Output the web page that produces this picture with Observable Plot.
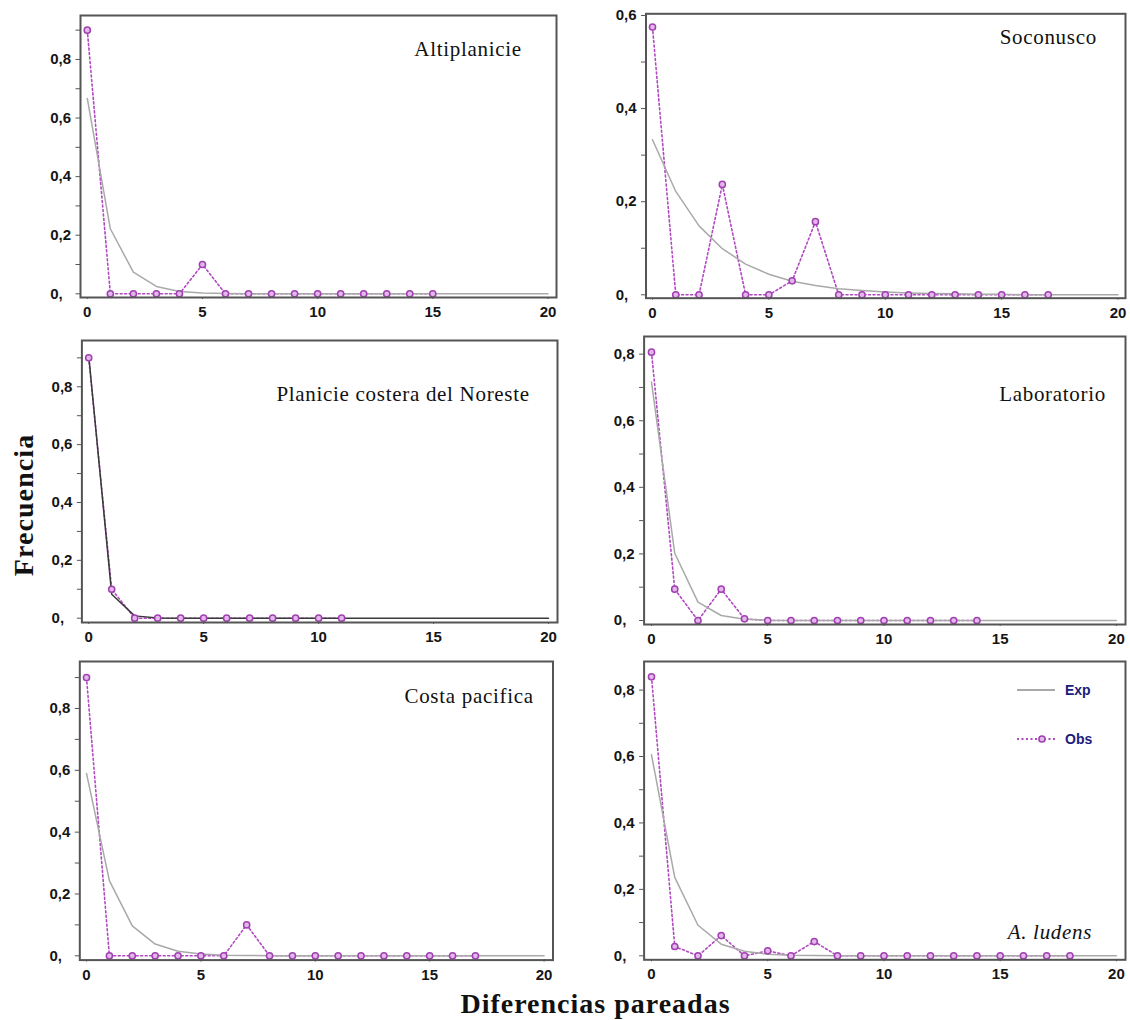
<!DOCTYPE html>
<html>
<head>
<meta charset="utf-8">
<script src="https://cdn.jsdelivr.net/npm/d3@7"></script>
<script src="https://cdn.jsdelivr.net/npm/@observablehq/plot@0.6"></script>
<style>
  body { margin: 0; background: #fff; }
  #wrap { position: relative; width: 1130px; height: 1020px; overflow: hidden; background: #fff; }
  #wrap svg { position: absolute; max-width: none; }
</style>
</head>
<body>
<div id="wrap"></div>
<script>
// ---------- DATA (index = paired differences) ----------
const titles = ["Altiplanicie", "Soconusco", "Planicie costera del Noreste", "Laboratorio", "Costa pacifica", "A. ludens"];

const altExp = [0.667, 0.222, 0.074, 0.025, 0.008, 0.003, 0.001, 0, 0, 0, 0, 0, 0, 0, 0, 0, 0, 0, 0, 0, 0];
const altObs = [0.90, 0, 0, 0, 0, 0.10, 0, 0, 0, 0, 0, 0, 0, 0, 0, 0];

const socExp = [0.333, 0.222, 0.148, 0.099, 0.066, 0.044, 0.029, 0.020, 0.013, 0.009, 0.006, 0.004, 0.003, 0.002, 0.001, 0.001, 0, 0, 0, 0, 0];
const socObs = [0.575, 0, 0, 0.237, 0, 0, 0.030, 0.157, 0, 0, 0, 0, 0, 0, 0, 0, 0, 0];

const plaExp = [0.909, 0.083, 0.008, 0.001, 0, 0, 0, 0, 0, 0, 0, 0, 0, 0, 0, 0, 0, 0, 0, 0, 0];
const plaObs = [0.90, 0.10, 0, 0, 0, 0, 0, 0, 0, 0, 0, 0];

const labExp = [0.716, 0.202, 0.055, 0.015, 0.004, 0.001, 0, 0, 0, 0, 0, 0, 0, 0, 0, 0, 0, 0, 0, 0, 0];
const labObs = [0.806, 0.094, 0, 0.094, 0.005, 0, 0, 0, 0, 0, 0, 0, 0, 0, 0];

const cosExp = [0.590, 0.243, 0.097, 0.038, 0.015, 0.006, 0.002, 0.001, 0, 0, 0, 0, 0, 0, 0, 0, 0, 0, 0, 0, 0];
const cosObs = [0.90, 0, 0, 0, 0, 0, 0, 0.10, 0, 0, 0, 0, 0, 0, 0, 0, 0, 0];

const ludExp = [0.605, 0.236, 0.092, 0.035, 0.014, 0.005, 0.002, 0.001, 0, 0, 0, 0, 0, 0, 0, 0, 0, 0, 0, 0, 0];
const ludObs = [0.84, 0.028, 0, 0.061, 0, 0.015, 0, 0.043, 0, 0, 0, 0, 0, 0, 0, 0, 0, 0, 0];

const yMajor = [0, 0.2, 0.4, 0.6, 0.8];
const yMinor = [0.1, 0.3, 0.5, 0.7, 0.9];
const xTicks = [0, 5, 10, 15, 20];
const legendLabels = ["Exp", "Obs"];
const xTitle = "Diferencias pareadas";
const yTitle = "Frecuencia";

// ---------- LAYOUT / STYLE ----------
const seriesExp = [altExp, socExp, plaExp, labExp, cosExp, ludExp];
const seriesObs = [altObs, socObs, plaObs, labObs, cosObs, ludObs];
const layout = [
  {frame: [80, 15, 556, 297],        xDom: [-0.295, 20.37], yDom: [-0.0126, 0.950], anchor: "top-right",    dx: -34.6, dy: 33.7, expColor: "#a9a9a9"},
  {frame: [645.5, 13.3, 1125, 297.7], xDom: [-0.279, 20.32], yDom: [-0.0073, 0.6036], anchor: "top-right",   dx: -28.6, dy: 23.9, expColor: "#a9a9a9"},
  {frame: [81.4, 340, 557, 622],     xDom: [-0.296, 20.39], yDom: [-0.0149, 0.960], anchor: "top-right",    dx: -27.7, dy: 53.8, expColor: "#3a3a3a"},
  {frame: [643.6, 336, 1125, 624],   xDom: [-0.318, 20.39], yDom: [-0.012, 0.853],  anchor: "top-right",    dx: -19.5, dy: 57.4, expColor: "#a9a9a9"},
  {frame: [79.3, 660.7, 552.5, 959.3], xDom: [-0.293, 20.39], yDom: [-0.0139, 0.952], anchor: "top-right",  dx: -19.3, dy: 34.8, expColor: "#a9a9a9"},
  {frame: [643.6, 660.7, 1125, 959], xDom: [-0.318, 20.39], yDom: [-0.012, 0.886],  anchor: "bottom-right", dx: -33.4, dy: -27.3, expColor: "#a9a9a9", italic: true}
];
const obsColor = "#b048c0";
const dotStroke = "#a040b0";
const dotFill = "#e3b6ec";
const frameColor = "#555";
const serif = "'Liberation Serif', 'Times New Roman', Times, serif";
const sans = "'Liberation Sans', Arial, Helvetica, sans-serif";

const wrap = document.getElementById("wrap");
const fmtY = d => d === 0 ? "0," : "0," + Math.round(d * 10);

layout.forEach((p, i) => {
  const [L, T, R, B] = p.frame;
  const left = L < 560 ? 0 : 562;
  const width = L < 560 ? 562 : 568;
  const top = Math.max(0, T - 14);
  const height = (B + 32) - top;
  const inDom = t => t >= p.yDom[0] && t <= p.yDom[1];
  const exp = seriesExp[i].map((v, k) => ({x: k, y: v}));
  const obs = seriesObs[i].map((v, k) => ({x: k, y: v}));

  const svg = Plot.plot({
    width, height,
    marginLeft: L - left, marginRight: left + width - R,
    marginTop: T - top, marginBottom: height - (B - top),
    x: {domain: p.xDom},
    y: {domain: p.yDom},
    style: {background: "transparent", overflow: "visible", fontFamily: sans, fontSize: "15px", fontWeight: "bold", color: "#151515"},
    marks: [
      Plot.axisY({ticks: yMinor.filter(inDom), tickSize: 4.5, tickFormat: () => "", label: null, stroke: frameColor}),
      Plot.axisY({ticks: yMajor.filter(inDom), tickSize: 4.5, tickPadding: 5, tickFormat: fmtY, label: null, stroke: frameColor}),
      Plot.axisX({ticks: xTicks, tickSize: 2, tickPadding: 7, tickFormat: d => String(d), label: null, stroke: frameColor}),
      Plot.line(obs, {x: "x", y: "y", stroke: obsColor, strokeWidth: 1.6, strokeDasharray: "2,2.5"}),
      Plot.line(exp, {x: "x", y: "y", stroke: p.expColor, strokeWidth: 1.5}),
      Plot.dot(obs, {x: "x", y: "y", r: 3.1, stroke: dotStroke, fill: dotFill, strokeWidth: 1.5}),
      Plot.frame({stroke: frameColor, strokeWidth: 2}),
      Plot.text([titles[i]], {
        text: d => d, frameAnchor: p.anchor, textAnchor: "end", lineAnchor: "middle",
        dx: p.dx, dy: p.dy, fontFamily: serif, fontSize: 21, fontWeight: "normal",
        fontStyle: p.italic ? "italic" : "normal", fill: "#111"
      })
    ]
  });
  svg.style.left = left + "px";
  svg.style.top = top + "px";
  // letter spacing for the panel title
  svg.querySelectorAll('g[aria-label="text"] text').forEach(t => t.style.letterSpacing = "0.7px");
  // "0," label is right-aligned as if it had a third character
  svg.querySelectorAll('g[aria-label="y-axis tick label"] text').forEach(t => {
    if (t.textContent === "0,") t.setAttribute("dx", "-8.3");
  });
  wrap.appendChild(svg);
});

// ---------- axis titles & legend (overlay) ----------
const ov = d3.select(wrap).append("svg")
  .attr("width", 1130).attr("height", 1020)
  .style("left", "0px").style("top", "0px").style("pointer-events", "none");

ov.append("text")
  .attr("x", 595.5).attr("y", 1013)
  .attr("text-anchor", "middle")
  .attr("font-family", serif).attr("font-weight", "bold").attr("font-size", 28)
  .style("letter-spacing", "1px")
  .attr("fill", "#111")
  .text(xTitle);

ov.append("text")
  .attr("transform", "translate(33,505) rotate(-90)")
  .attr("text-anchor", "middle")
  .attr("font-family", serif).attr("font-weight", "bold").attr("font-size", 28)
  .style("letter-spacing", "1.1px")
  .attr("fill", "#111")
  .text(yTitle);

// legend (panel 6)
const lg = ov.append("g").attr("transform", "translate(1010,675)");
lg.append("line").attr("x1", 7).attr("x2", 45).attr("y1", 15).attr("y2", 15)
  .attr("stroke", "#a9a9a9").attr("stroke-width", 1.8);
lg.append("line").attr("x1", 7).attr("x2", 46).attr("y1", 64).attr("y2", 64)
  .attr("stroke", obsColor).attr("stroke-width", 1.8).attr("stroke-dasharray", "2,2.5");
lg.append("circle").attr("cx", 32).attr("cy", 64).attr("r", 3.1)
  .attr("stroke", dotStroke).attr("fill", dotFill).attr("stroke-width", 1.5);
lg.selectAll("text.lab").data(legendLabels).join("text")
  .attr("class", "lab")
  .attr("x", 55).attr("y", (d, k) => k === 0 ? 15 : 64)
  .attr("dy", "0.35em")
  .attr("font-family", sans).attr("font-weight", "bold").attr("font-size", 14)
  .attr("fill", "#1c1c7c")
  .text(d => d);
</script>
</body>
</html>
